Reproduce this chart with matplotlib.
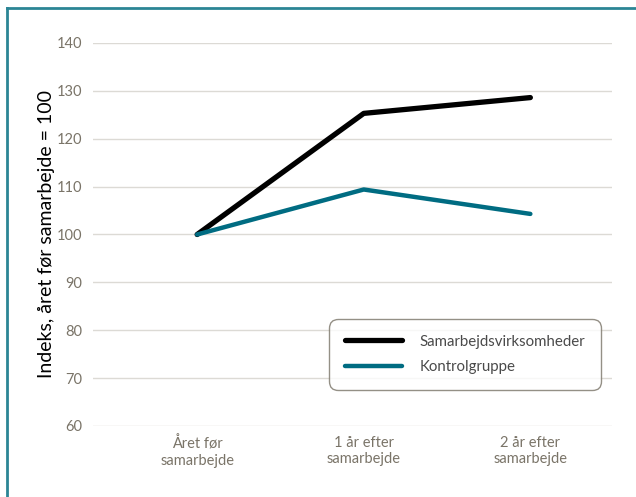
import matplotlib
matplotlib.use('Agg')
import matplotlib.pyplot as plt
from matplotlib.lines import Line2D

# data
categories = ['Året før\nsamarbejde', '1 år efter\nsamarbejde', '2 år efter\nsamarbejde']
samarbejde = [100, 125.3, 128.6]
kontrol = [100, 109.4, 104.3]
yticks = [60, 70, 80, 90, 100, 110, 120, 130, 140]

plt.rcParams['font.family'] = ['Lato', 'DejaVu Sans']

fig = plt.figure(figsize=(6.36, 4.97), dpi=100)
ax = fig.add_axes([93 / 636, 1 - 426 / 497, (612 - 93) / 636, (426 - 43) / 497])

x = range(len(categories))
ax.plot(x, samarbejde, color='black', lw=3.8, solid_capstyle='round',
        label='Samarbejdsvirksomheder', zorder=3)
ax.plot(x, kontrol, color='#006c82', lw=3.2, solid_capstyle='round',
        label='Kontrolgruppe', zorder=3)

ax.set_xlim(-0.625, 2.49)
ax.set_ylim(60, 140)
ax.set_yticks(yticks)
ax.set_xticks(list(x))
ax.set_xticklabels(categories, linespacing=1.25)
ax.grid(axis='y', color='#dcdad5', lw=1)
ax.set_axisbelow(True)
for s in ax.spines.values():
    s.set_visible(False)
ax.tick_params(length=0, labelsize=10.5, labelcolor='#7a7468')
ax.tick_params(axis='y', pad=8)
ax.tick_params(axis='x', pad=7)
ax.set_ylabel('Indeks, året før samarbejde = 100', fontsize=14, color='black', labelpad=1)

leg = ax.legend(loc='lower right', bbox_to_anchor=(0.979, 0.095), frameon=True,
                fontsize=10.8, handlelength=3.8, handletextpad=1.2,
                borderpad=1.05, labelspacing=0.75, borderaxespad=0)
leg.get_frame().set_edgecolor('#7a7468')
leg.get_frame().set_linewidth(1)
leg.get_frame().set_boxstyle('round,pad=0,rounding_size=0.6')
for t in leg.get_texts():
    t.set_color('#4a4a4a')

# frame at left and top edge of the figure
fig.add_artist(Line2D([7 / 636, 7 / 636], [0, 1 - 7.5 / 497], color='#2b8595', lw=2))
fig.add_artist(Line2D([7 / 636, 1], [1 - 7.5 / 497, 1 - 7.5 / 497], color='#2b8595', lw=2))

fig.savefig('out.png', dpi=100)
